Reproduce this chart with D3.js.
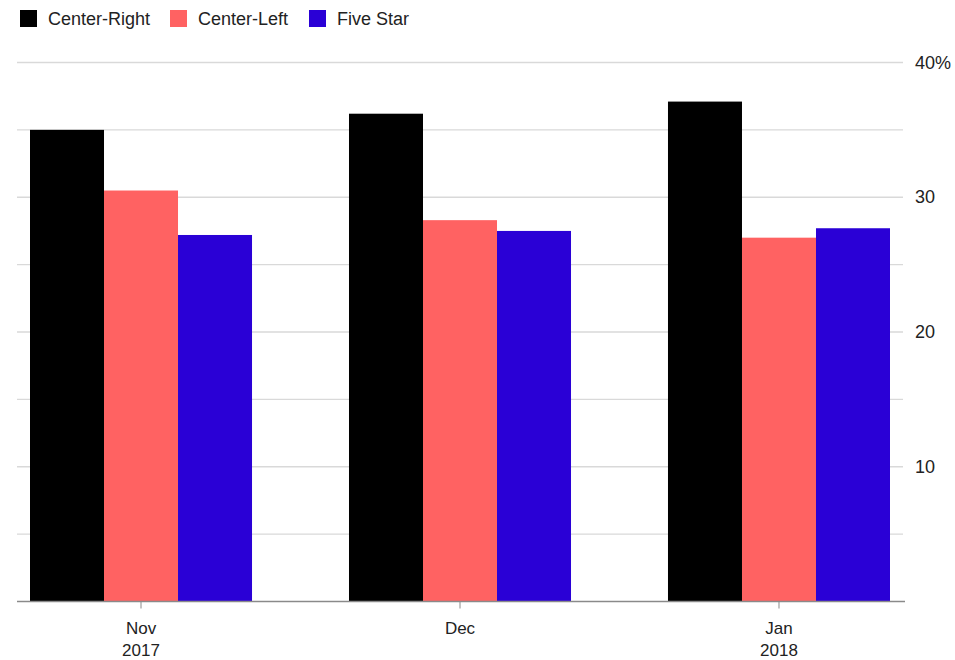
<!DOCTYPE html>
<html>
<head>
<meta charset="utf-8">
<script src="https://cdn.jsdelivr.net/npm/d3@7"></script>
<style>
  body { margin: 0; background: #fff; }
  svg text { font-family: "Liberation Sans", Arial, sans-serif; fill: #222; }
</style>
</head>
<body>
<svg id="chart" width="955" height="660"></svg>
<script>
// poll data, percent
const months = ["Nov", "Dec", "Jan"];
const years = ["2017", "", "2018"];
const series = ["Center-Right", "Center-Left", "Five Star"];
const colors = ["#000000", "#ff6262", "#2a00d6"];
const centerRight = [35.0, 36.2, 37.1];
const centerLeft = [30.5, 28.3, 27.0];
const fiveStar = [27.2, 27.5, 27.7];
const gridTicks = [5, 10, 15, 20, 25, 30, 35, 40];
const labelTicks = [10, 20, 30, 40];

const values = [centerRight, centerLeft, fiveStar];

const svg = d3.select("#chart");

const x0 = d3.scaleBand().domain(months).range([30, 890]).paddingInner(0.304).paddingOuter(0);
const x1 = d3.scaleBand().domain(series).range([0, x0.bandwidth()]);
const y = d3.scaleLinear().domain([0, 40]).range([601.5, 62.5]);

// grid lines
svg.append("g")
    .selectAll("line")
    .data(gridTicks)
    .join("line")
    .attr("x1", 17)
    .attr("x2", 903)
    .attr("y1", d => y(d))
    .attr("y2", d => y(d))
    .attr("stroke", "#d9d9d9")
    .attr("stroke-width", 1.3);

// right axis labels
svg.append("g")
    .selectAll("text")
    .data(labelTicks)
    .join("text")
    .attr("x", 915)
    .attr("y", d => y(d) + 6)
    .attr("font-size", 18)
    .text(d => d === 40 ? d + "%" : d);

// bars
months.forEach(function (m, i) {
    let g = svg.append("g").attr("transform", "translate(" + x0(m) + ",0)");
    g.selectAll("rect")
        .data(series)
        .join("rect")
        .attr("x", d => x1(d))
        .attr("width", x1.bandwidth())
        .attr("y", (d, j) => y(values[j][i]))
        .attr("height", (d, j) => y(0) - y(values[j][i]))
        .attr("fill", (d, j) => colors[j]);
});

// baseline
svg.append("line")
    .attr("x1", 17)
    .attr("x2", 905)
    .attr("y1", y(0))
    .attr("y2", y(0))
    .attr("stroke", "#8a8a8a")
    .attr("stroke-width", 1.6);

// x ticks and labels
const xg = svg.append("g")
    .selectAll("g")
    .data(months)
    .join("g")
    .attr("transform", d => "translate(" + (x0(d) + x0.bandwidth() / 2) + ",0)");
xg.append("line")
    .attr("y1", y(0))
    .attr("y2", y(0) + 7)
    .attr("stroke", "#8a8a8a");
xg.append("text")
    .attr("y", 634)
    .attr("text-anchor", "middle")
    .attr("font-size", 17)
    .text(d => d);
xg.append("text")
    .attr("y", 656)
    .attr("text-anchor", "middle")
    .attr("font-size", 17)
    .text((d, i) => years[i]);

// legend
const legendX = [20, 170, 309];
const legend = svg.append("g")
    .selectAll("g")
    .data(series)
    .join("g")
    .attr("transform", (d, i) => "translate(" + legendX[i] + ",0)");
legend.append("rect")
    .attr("y", 10)
    .attr("width", 17)
    .attr("height", 17)
    .attr("fill", (d, i) => colors[i]);
legend.append("text")
    .attr("x", 28)
    .attr("y", 25)
    .attr("font-size", 18)
    .text(d => d);
</script>
</body>
</html>
